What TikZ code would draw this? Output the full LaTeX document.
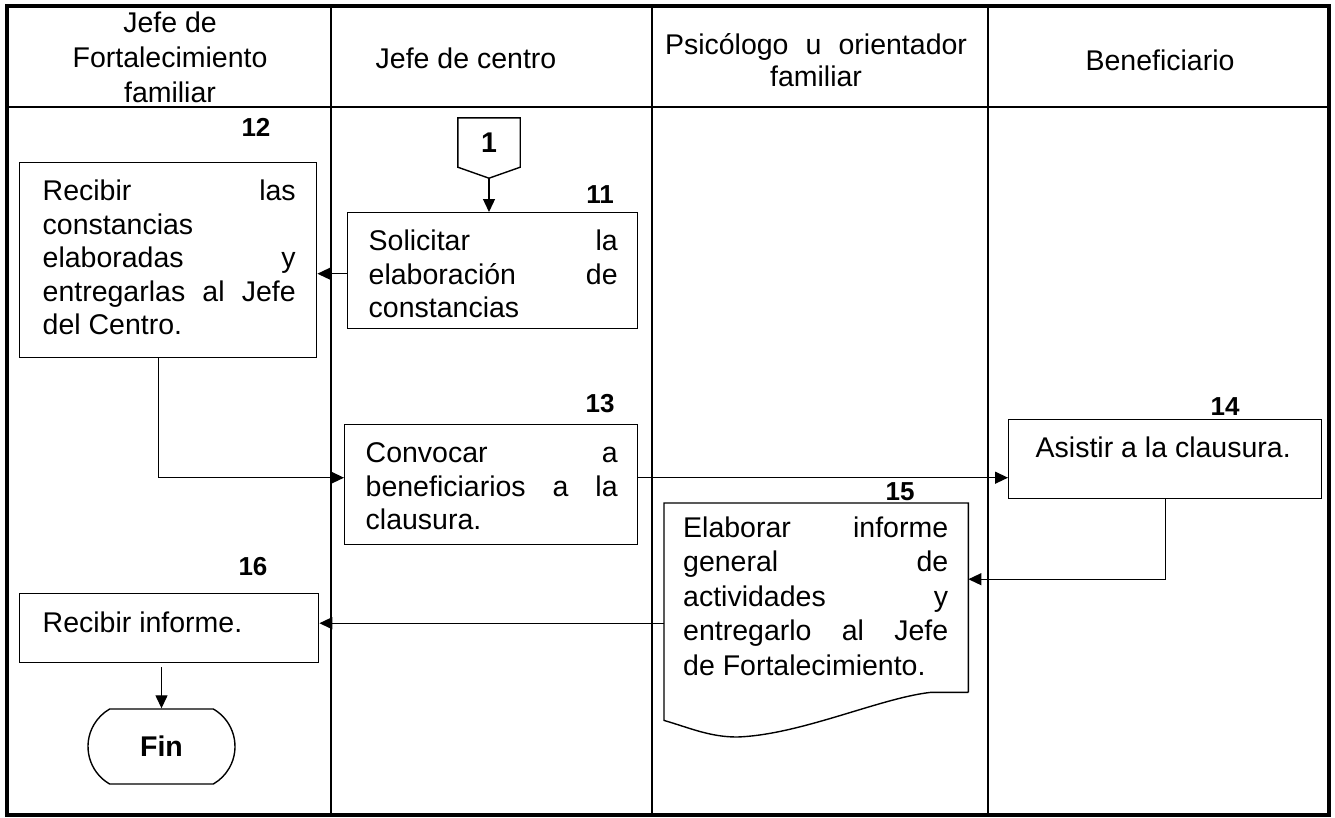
\documentclass[tikz,border=0pt]{standalone}
\usepackage{fontspec}
\setmainfont{Liberation Sans}
\usetikzlibrary{arrows.meta,calc,shapes.misc}
\newcommand\btx[6]{\begin{minipage}[t][#2][t]{#1}\leftskip=#3\relax\rightskip=#4\relax\parfillskip=0pt plus 1fil\relax\rule{0pt}{#5}#6\par\end{minipage}}
\begin{document}
\begin{tikzpicture}[x=1pt,y=-1pt,
  every node/.style={font=\fontsize{28.5}{33.5}\selectfont},
  lane/.style={line width=2pt},
  stepbox/.style={draw, line width=1.4pt, inner sep=0pt, anchor=north west},
  docbox/.style={draw=none, inner sep=0pt, anchor=north west},
  num/.style={font=\fontsize{26}{30}\selectfont\bfseries},
  head/.style={align=center},
  arr/.style={line width=1.3pt, -{Triangle[length=13pt,width=12pt]}},
  outline/.style={line width=1.4pt}]
\useasboundingbox (0,0) rectangle (1335,817);
\fill[white] (0,0) rectangle (1335,817);
% lanes
\draw[line width=2.5pt] (7,107) -- (1329,107);
\draw[lane] (331,6) -- (331,815);
\draw[lane] (652,6) -- (652,815);
\draw[lane] (988,6) -- (988,815);
\draw[line width=3.5pt] (7,6) rectangle (1329,815);
% headers
\node[head, font=\fontsize{28.5}{35}\selectfont] (h1) at (170,57) {Jefe de\\Fortalecimiento\\familiar};
\node[head] (h2) at (466,58) {Jefe de centro};
\node[head, font=\fontsize{28.5}{32}\selectfont] (h3) at (816,60) {\hbox to 302pt{Psicólogo\hfill u\hfill orientador}\\familiar};
\node[head] (h4) at (1160,60) {Beneficiario};
% numbers
\node[num] (n12) at (256,127) {12};
\node[num] (n11) at (600,195) {11};
\node[num] (n13) at (600,404) {13};
\node[num] (n14) at (1225,407) {14};
\node[num] (n15) at (900,492) {15};
\node[num] (n16) at (253,567) {16};
% connector 1
\node[num, font=\fontsize{28.5}{33}\selectfont\bfseries, minimum width=62pt, minimum height=49pt, inner sep=0pt] (c1) at (489,142.5) {1};
\coordinate (c1tip) at ($(c1.south)+(0,11)$);
\draw[outline] (c1.north west) -- (c1.north east) -- (c1.south east) -- (c1tip) -- (c1.south west) -- cycle;
% boxes
\node[stepbox] (b11) at (347,212) {\btx{290pt}{116pt}{21pt}{20pt}{38pt}{Solicitar\hfill la\\elaboración\hfill de\\constancias}};
\node[stepbox] (b12) at (19,162) {\btx{297pt}{195pt}{23pt}{21pt}{38pt}{Recibir\hfill las\\constancias\\elaboradas\hfill y\\entregarlas\hfill al\hfill Jefe\\del Centro.}};
\node[stepbox] (b13) at (344,424) {\btx{293pt}{120pt}{21pt}{20pt}{38pt}{Convocar\hfill a\\beneficiarios\hfill a\hfill la\\clausura.}};
\node[stepbox] (b14) at (1008,419) {\btx{313pt}{79pt}{27pt}{10pt}{38pt}{Asistir a la clausura.}};
\node[docbox] (b15) at (664,503) {\btx{304pt}{189pt}{19pt}{20pt}{34pt}{\baselineskip=34.5pt Elaborar\hfill informe\\general\hfill de\\actividades\hfill y\\entregarlo\hfill al\hfill Jefe\\de Fortalecimiento.}};
\draw[outline] (b15.south east) -- (b15.north east) -- (b15.north west) -- ($(b15.south west)+(0,28)$)
  .. controls (690,728) and (710,737) .. (737,737)
  .. controls (800,735) and (880,698) .. ($(b15.south east)+(-38,0)$) -- (b15.south east);
\node[stepbox] (b16) at (19,593) {\btx{299pt}{69pt}{23pt}{10pt}{39pt}{Recibir informe.}};
\node[draw, outline, rounded rectangle, rounded rectangle arc length=120, minimum width=147pt, minimum height=75pt, inner sep=0pt, font=\fontsize{28.5}{33}\selectfont\bfseries] (fin) at (161.5,746.5) {Fin};
% connectors
\draw[arr] (c1tip) -- (c1tip |- b11.north);
\coordinate (a1) at ($(b11.west)+(0,3)$);
\draw[arr] (a1) -- (a1 -| b12.east);
\coordinate (a2) at ($(b13.west)+(0,-7)$);
\draw[arr] ($(b12.south)+(-9.5,0)$) |- (a2);
\coordinate (a3) at ($(b13.east)+(0,-7)$);
\draw[arr] (a3) -- (a3 -| b14.west);
\coordinate (a4) at ($(b15.east)+(0,-18.5)$);
\draw[arr] (b14.south) |- (a4);
\coordinate (a5) at ($(b15.west)+(0,25.5)$);
\draw[arr] (a5) -- (a5 -| b16.east);
\coordinate (f0) at ($(b16.south -| fin.north)+(0,4)$);
\draw[arr] (f0) -- (fin.north);
\end{tikzpicture}
\end{document}
